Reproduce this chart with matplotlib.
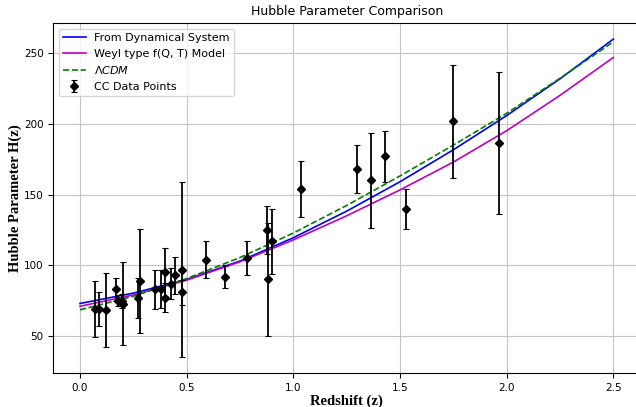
import matplotlib
matplotlib.use('Agg')
import matplotlib.pyplot as plt

# cosmic chronometer data
z_cc = [0.07, 0.09, 0.12, 0.17, 0.179, 0.199, 0.2, 0.27, 0.28, 0.352,
        0.38, 0.4, 0.4004, 0.425, 0.445, 0.4783, 0.48, 0.593, 0.68, 0.781,
        0.875, 0.88, 0.9, 1.037, 1.3, 1.363, 1.43, 1.53, 1.75, 1.965]
H_cc = [69, 69, 68.6, 83, 75, 75, 72.9, 77, 88.8, 83,
        83, 95, 77, 87.1, 92.8, 80.9, 97, 104, 92, 105,
        125, 90, 117, 154, 168, 160, 177, 140, 202, 186.5]
err_cc = [19.6, 12, 26.2, 8, 4, 5, 29.6, 14, 36.6, 14,
          13.5, 17, 10.2, 11.2, 12.9, 9, 62, 13, 8, 12,
          17, 40, 23, 20, 17, 33.6, 18, 14, 40, 50.4]

# model curves
z_model = [0.0, 0.25, 0.5, 0.75, 1.0, 1.25, 1.5, 1.75, 2.0, 2.25, 2.5]
H_dyn = [73.0, 80.3, 90.0, 103.0, 119.5, 138.3, 159.1, 181.7, 205.9, 231.9, 260.0]
H_weyl = [71.0, 79.0, 89.5, 102.5, 118.0, 135.0, 153.3, 173.0, 195.2, 220.2, 247.0]
H_lcdm = [68.5, 78.1, 90.6, 105.5, 122.8, 142.3, 163.2, 185.0, 207.5, 232.3, 258.0]

fig = plt.figure(figsize=(6.36, 4.07), dpi=100)
ax = fig.add_axes([0.0838, 0.0833, 0.9225, 0.8597])

ax.plot(z_model, H_dyn, color='blue', lw=1.2, label='From Dynamical System')
ax.plot(z_model, H_weyl, color='m', lw=1.2, label='Weyl type f(Q, T) Model')
ax.plot(z_model, H_lcdm, color='green', ls='--', lw=1.2, label=r'$\Lambda CDM$')
ax.errorbar(z_cc, H_cc, yerr=err_cc, fmt='D', color='black', ms=4.5,
            ecolor='black', elinewidth=1.3, capsize=2.5, capthick=0.8,
            label='CC Data Points')

ax.set_title('Hubble Parameter Comparison', fontsize=9)
ax.set_xlabel('Redshift (z)', fontsize=10.5, fontweight='bold',
              family='Liberation Serif', labelpad=1)
ax.set_ylabel('Hubble Parameter H(z)', fontsize=10.5, fontweight='bold',
              family='Liberation Serif', labelpad=1)
ax.tick_params(labelsize=7.5)
ax.grid(True, color='#c4c4c4')
ax.legend(loc='upper left', fontsize=8)

fig.savefig('out.png', dpi=100)
